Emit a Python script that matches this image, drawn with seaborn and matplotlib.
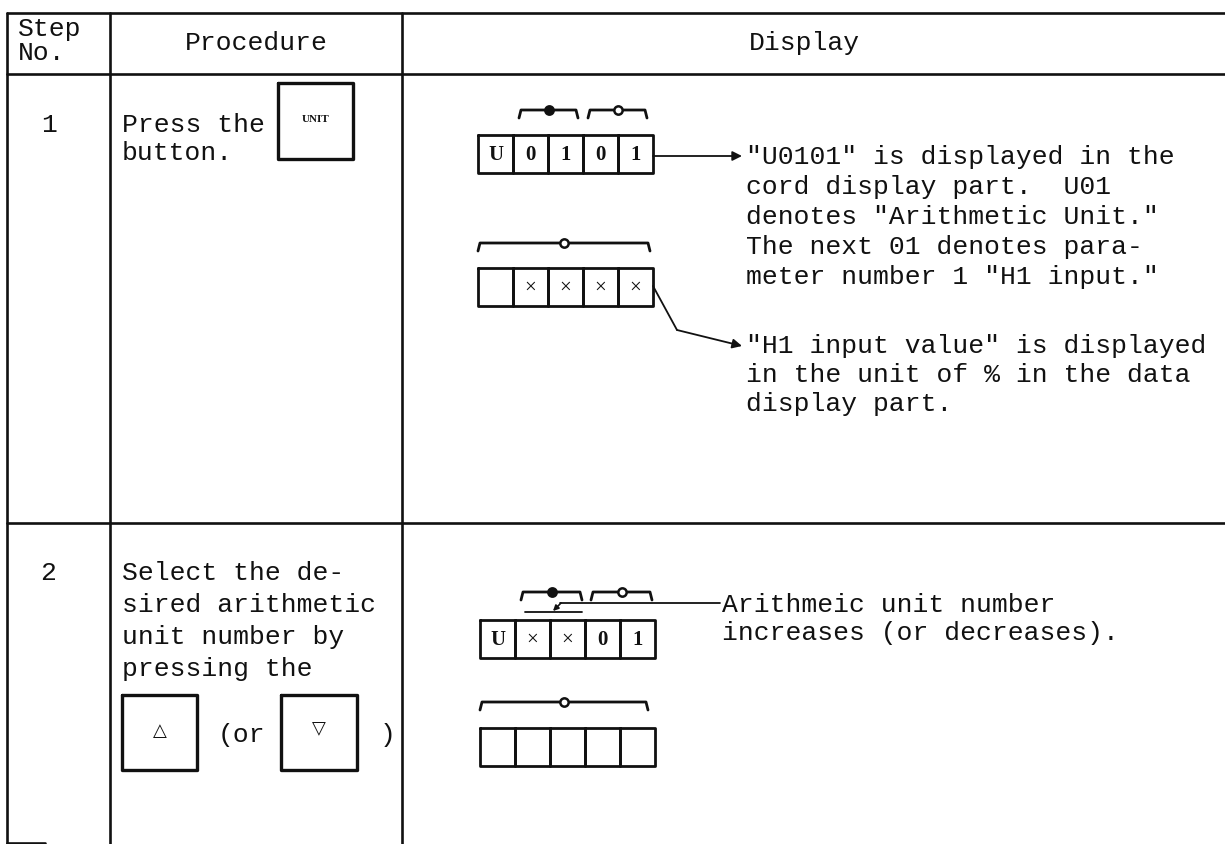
import matplotlib

matplotlib.use("Agg")
import matplotlib.pyplot as plt  # noqa: E402
import seaborn as sns  # noqa: E402

# table content
header_labels = ["Step", "No.", "Procedure", "Display"]
step_numbers = ["1", "2"]
procedure_step1 = ["Press the", "button."]
procedure_step2 = ["Select the de-", "sired arithmetic", "unit number by", "pressing the"]
key_labels = ["UNIT", "\u25b3", "\u25bd"]
notes_code_step1 = [
    '"U0101" is displayed in the',
    "cord display part.  U01",
    'denotes "Arithmetic Unit."',
    "The next 01 denotes para-",
    'meter number 1 "H1 input."',
]
notes_data_step1 = [
    '"H1 input value" is displayed',
    "in the unit of % in the data",
    "display part.",
]
notes_code_step2 = ["Arithmeic unit number", "increases (or decreases)."]
code_cells_step1 = ["U", "0", "1", "0", "1"]
data_cells_step1 = ["", "\u00d7", "\u00d7", "\u00d7", "\u00d7"]
code_cells_step2 = ["U", "\u00d7", "\u00d7", "0", "1"]
data_cells_step2 = ["", "", "", "", ""]

sns.set_theme(style="white")
plt.rcParams["font.family"] = ["Liberation Mono", "DejaVu Sans Mono"]

W, H = 1225, 844
figure = plt.figure(figsize=(W / 100, H / 100), dpi=100)
axis = figure.add_axes([0, 0, 1, 1])
axis.set_xlim(0, W)
axis.set_ylim(H, 0)
axis.axis("off")

INK = "#111111"
FS = 19
LW = 1.9
SERIF = ["Liberation Serif", "DejaVu Serif"]

# grid lines
x_left, x_col1, x_col2 = 7, 110, 402
y_top, y_head, y_row = 13, 74, 523
axis.plot([x_left, W], [y_top, y_top], color=INK, lw=LW)
axis.plot([x_left, W], [y_head, y_head], color=INK, lw=LW)
axis.plot([x_left, W], [y_row, y_row], color=INK, lw=LW)
for x in (x_left, x_col1, x_col2):
    axis.plot([x, x], [y_top, H], color=INK, lw=LW)
axis.plot([x_left, 45], [H - 1, H - 1], color=INK, lw=LW)

# header
axis.text(18, 29, header_labels[0], fontsize=FS, color=INK, va="center")
axis.text(18, 53, header_labels[1], fontsize=FS, color=INK, va="center")
axis.text((x_col1 + x_col2) / 2, 43, header_labels[2], fontsize=FS, color=INK,
          ha="center", va="center")
axis.text(804, 43, header_labels[3], fontsize=FS, color=INK, ha="center",
          va="center")

# step numbers
axis.text(49, 125, step_numbers[0], fontsize=FS, color=INK, ha="center", va="center")
axis.text(48, 573, step_numbers[1], fontsize=FS, color=INK, ha="center", va="center")


def text_lines(lines, x, y0, step):
    for i, line in enumerate(lines):
        axis.text(x, y0 + i * step, line, fontsize=FS, color=INK, va="center")


def key(x0, y0, x1, y1, label, size, dy=0, **kw):
    axis.plot([x0, x1, x1, x0, x0], [y0, y0, y1, y1, y0], color=INK, lw=2.4)
    axis.text((x0 + x1) / 2, (y0 + y1) / 2 + dy, label, fontsize=size,
              color=INK, ha="center", va="center", **kw)


def cells(values, x0, y0, width=35, height=38):
    for i, value in enumerate(values):
        cx = x0 + i * width
        axis.plot([cx, cx + width, cx + width, cx, cx],
                  [y0, y0, y0 + height, y0 + height, y0], color=INK, lw=2.0)
        weight = "normal" if value == "\u00d7" else "bold"
        axis.text(cx + width / 2, y0 + height / 2 + 1, value, fontsize=15,
                  color=INK, ha="center", va="center", family=SERIF,
                  fontweight=weight)


def bracket(x0, x1, y, filled):
    axis.plot([x0, x0 + 2, x1 - 2, x1], [y + 8, y, y, y + 8], color=INK, lw=2.0)
    axis.plot([(x0 + x1) / 2], [y], marker="o", ms=6, mew=1.8, mec=INK,
              mfc=INK if filled else "white")


def arrow(points):
    for (xa, ya), (xb, yb) in zip(points[:-2], points[1:-1]):
        axis.plot([xa, xb], [ya, yb], color=INK, lw=1.3)
    axis.annotate("", xy=points[-1], xytext=points[-2],
                  arrowprops=dict(arrowstyle="-|>", lw=1.3, color=INK,
                                  mutation_scale=14, shrinkA=0, shrinkB=0))


# step 1 procedure
text_lines(procedure_step1, 122, 125, 28)
key(278, 83, 353, 159, key_labels[0], 8, dy=-2, fontweight="bold", family=SERIF)

# step 1 display
cells(code_cells_step1, 478, 135)
bracket(519, 578, 110, True)
bracket(588, 647, 110, False)
cells(data_cells_step1, 478, 268)
bracket(478, 650, 243, False)
arrow([(653, 156), (742, 156)])
text_lines(notes_code_step1, 746, 157, 30)
arrow([(653, 286), (677, 330), (742, 346)])
text_lines(notes_data_step1, 746, 346, 29)

# step 2 procedure
text_lines(procedure_step2, 122, 573, 32)
key(122, 695, 197, 770, key_labels[1], 13, dy=-2, family=["DejaVu Sans"],
    fontweight="bold")
axis.text(218, 735, "(or", fontsize=FS, color=INK, va="center")
key(281, 695, 357, 770, key_labels[2], 13, dy=-4, family=["DejaVu Sans"],
    fontweight="bold")
axis.text(380, 735, ")", fontsize=FS, color=INK, va="center")

# step 2 display
cells(code_cells_step2, 480, 620)
bracket(521, 582, 592, True)
bracket(591, 652, 592, False)
axis.plot([525, 582], [612, 612], color=INK, lw=1.3)
axis.plot([720, 560], [603, 603], color=INK, lw=1.3)
axis.annotate("", xy=(553, 611), xytext=(561, 603),
              arrowprops=dict(arrowstyle="-|>", lw=1.2, color=INK,
                              mutation_scale=8, shrinkA=0, shrinkB=0))
text_lines(notes_code_step2, 722, 605, 28)
cells(data_cells_step2, 480, 728)
bracket(480, 648, 702, False)

figure.savefig("out.png", dpi=100)
plt.close(figure)
